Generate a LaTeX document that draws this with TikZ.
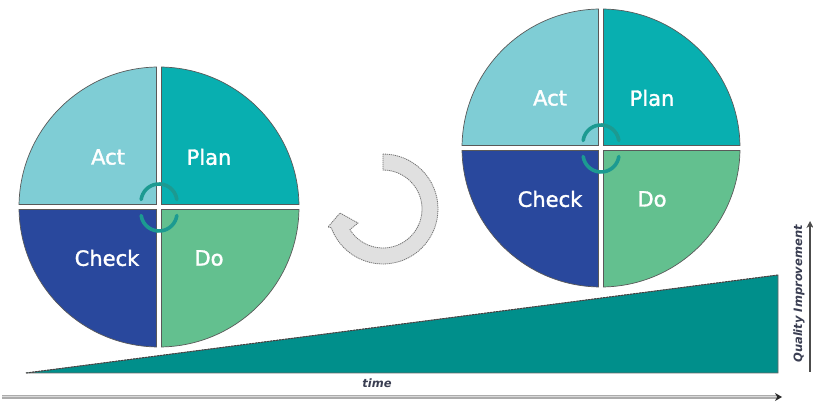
\documentclass[tikz,border=0pt]{standalone}
\usepackage{fontspec}
\setmainfont{DejaVu Sans}
\newfontfamily\phasefont[FakeBold=1.6]{DejaVu Sans}
\usetikzlibrary{calc,arrows.meta}
\definecolor{actc}{HTML}{7FCDD5}
\definecolor{planc}{HTML}{08AFB0}
\definecolor{checkc}{HTML}{29489D}
\definecolor{doc}{HTML}{63C08F}
\definecolor{rampc}{HTML}{008F8B}
\definecolor{ringc}{HTML}{1C9A91}
\definecolor{labc}{HTML}{3A3E52}
\newcommand\pdcaquad[4]{% center, mid angle, radius, colour
  \filldraw[quadstyle, fill=#4] ($(#1)+({#2}:3.54)$) -- ($(#1)+({#2+44}:#3)$)
    arc[start angle={#2+44}, end angle={#2-44}, radius=#3] -- cycle;}
\begin{document}
\begin{tikzpicture}[x=1pt,y=1pt,
  quadstyle/.style={draw=black!65, line width=0.7pt},
  phase/.style={text=white, font=\phasefont\fontsize{21}{24}\selectfont, inner sep=0pt},
  minring/.style={draw=ringc, line width=3.6pt, line cap=round},
  turnarrow/.style={fill=black!12, draw=black!55, line width=0.8pt, dash pattern=on 1.2pt off 0.8pt},
  axislab/.style={text=labc, font=\fontsize{11.5}{13}\selectfont\bfseries\itshape, inner sep=0pt}]
\useasboundingbox (0,0) rectangle (813,403);

% ramp
\coordinate (r0) at (26,30);
\coordinate (r1) at (778,128);
\coordinate (r2) at (778,30);
\filldraw[fill=rampc, draw=black!60, line width=0.6pt] (r0) -- (r1) -- (r2) -- cycle;
\draw[black!75, line width=1pt, dash pattern=on 2pt off 1pt] (r0) -- (r1);

% left PDCA wheel
\coordinate (L) at (159,196);
\pdcaquad{L}{45}{140}{planc}
\pdcaquad{L}{135}{140}{actc}
\pdcaquad{L}{225}{140}{checkc}
\pdcaquad{L}{315}{140}{doc}
\node[phase] (lact) at ($(L)+(-51,50)$) {Act};
\node[phase] (lplan) at ($(L)+(50,50)$) {Plan};
\node[phase] (lcheck) at ($(L)+(-52,-51)$) {Check};
\node[phase] (ldo) at ($(L)+(50,-51)$) {Do};
\draw[minring] ($(L)+(0,5)+(8:18)$) arc[start angle=8, end angle=172, radius=18];
\draw[minring] ($(L)+(0,-6)+(188:18)$) arc[start angle=188, end angle=352, radius=18];

% right PDCA wheel
\coordinate (R) at (601,255);
\pdcaquad{R}{45}{139}{planc}
\pdcaquad{R}{135}{139}{actc}
\pdcaquad{R}{225}{139}{checkc}
\pdcaquad{R}{315}{139}{doc}
\node[phase] (ract) at ($(R)+(-51,50)$) {Act};
\node[phase] (rplan) at ($(R)+(51,50)$) {Plan};
\node[phase] (rcheck) at ($(R)+(-51,-51)$) {Check};
\node[phase] (rdo) at ($(R)+(51,-51)$) {Do};
\draw[minring] ($(R)+(0,5)+(8:18)$) arc[start angle=8, end angle=172, radius=18];
\draw[minring] ($(R)+(0,-6)+(188:18)$) arc[start angle=188, end angle=352, radius=18];

% turning arrow
\coordinate (C) at (383,194);
\filldraw[turnarrow] ($(C)+(90:55)$) arc[start angle=90, end angle=-160, radius=55]
  -- (328,176) -- (340,190) -- (358,180)
  -- ($(C)+(-148:39)$) arc[start angle=-148, end angle=90, radius=39] -- cycle;

% time axis
\coordinate (t0) at (2,6);
\coordinate (t1) at (782,6);
\draw[gray!65, line width=3.4pt] (t0) -- ($(t1)+(-3,0)$);
\draw[gray!30, line width=1pt] (t0) -- ($(t1)+(-4,0)$);
\draw[black!85, line width=1pt, -{Stealth[length=7pt,width=8pt]}] ($(t1)+(-4,0)$) -- (t1);
\node[axislab] (time) at (377,20) {time};

% quality axis
\coordinate (q0) at (810,31);
\coordinate (q1) at (810,182);
\draw[black!70, line width=1.2pt, -{Stealth[length=7pt,width=7pt]}] (q0) -- (q1);
\node[axislab, rotate=90] (quality) at (799,109) {Quality Improvement};
\end{tikzpicture}
\end{document}
